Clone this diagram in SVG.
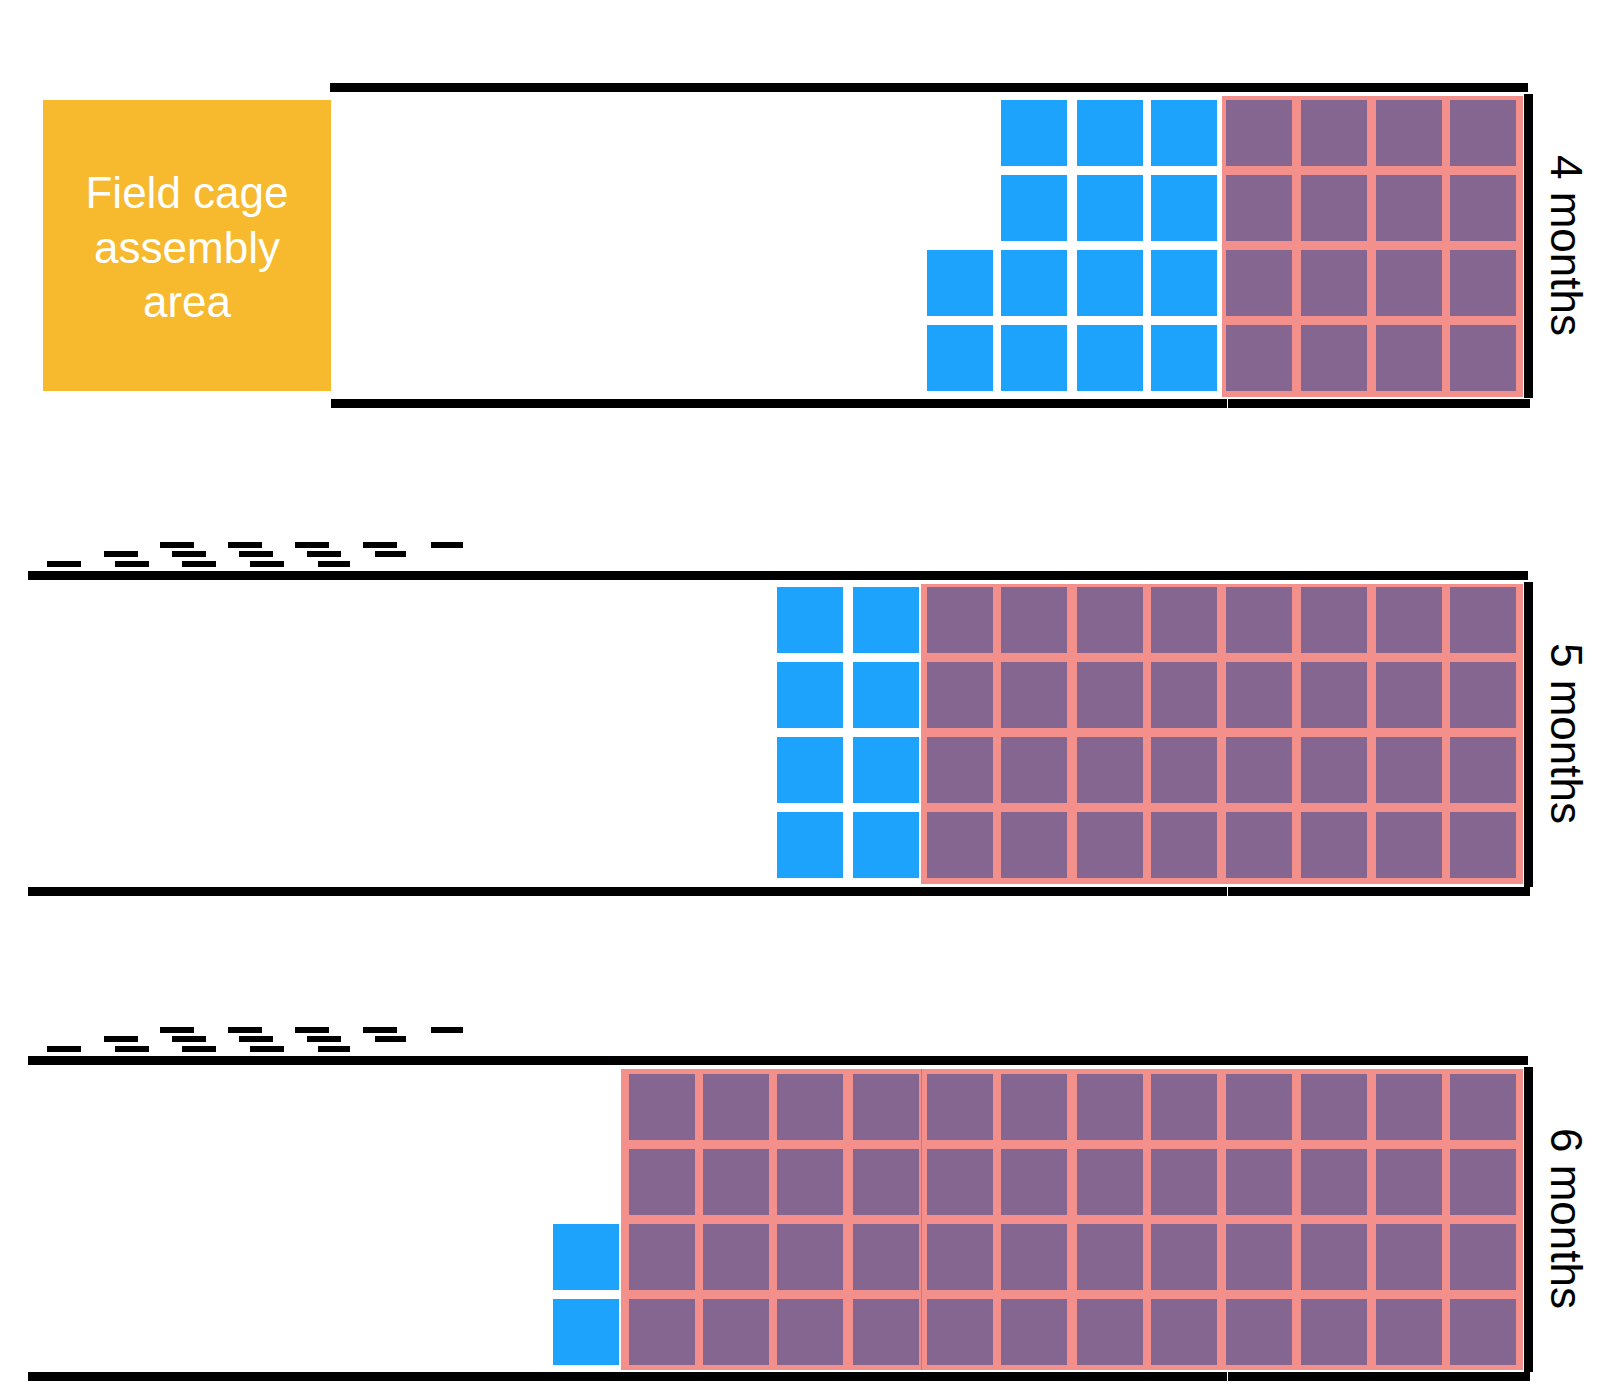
<svg xmlns="http://www.w3.org/2000/svg" xmlns:xlink="http://www.w3.org/1999/xlink" width="1600" height="1400" viewBox="0 0 1600 1400">
<style>
.bar{fill:#000}
.b{fill:#1DA3FC}
.p{fill:#846690}
.pk{fill:#F4908C}
.d{fill:#000}
.lbl{font-family:"Liberation Sans",Arial,sans-serif;font-size:44px;fill:#000;text-anchor:middle}
.box{font-family:"Liberation Sans",Arial,sans-serif;font-size:44px;fill:#fff;text-anchor:middle}
</style>
<defs>
<g id="dashes">
<rect class="d" x="160" y="542" width="34" height="6"/><rect class="d" x="228" y="542" width="34" height="6"/><rect class="d" x="295" y="542" width="34" height="6"/><rect class="d" x="363" y="542" width="34" height="6"/><rect class="d" x="431" y="542" width="32" height="6"/>
<rect class="d" x="104" y="551" width="34" height="6"/><rect class="d" x="172" y="551" width="34" height="6"/><rect class="d" x="239" y="551" width="34" height="6"/><rect class="d" x="307" y="551" width="34" height="6"/><rect class="d" x="375" y="551" width="31" height="6"/>
<rect class="d" x="47" y="561" width="34" height="6"/><rect class="d" x="115" y="561" width="34" height="6"/><rect class="d" x="182" y="561" width="34" height="6"/><rect class="d" x="250" y="561" width="34" height="6"/><rect class="d" x="318" y="561" width="32" height="6"/>
</g>
</defs>

<g id="assembly-area">
<rect x="43" y="100" width="288" height="291" fill="#F7B92D"/>
<text class="box" x="187" y="208">Field cage</text>
<text class="box" x="187" y="262.5">assembly</text>
<text class="box" x="187" y="317">area</text>
</g>

<g id="panel-4-months">
<rect class="bar" x="330" y="83" width="1198" height="9"/>
<rect class="bar" x="331" y="399" width="896" height="9"/>
<rect class="bar" x="1228" y="399" width="302" height="9"/>
<rect class="bar" x="1524" y="94" width="9" height="304"/>
<g>
<rect class="b" x="1001" y="100" width="66" height="66"/><rect class="b" x="1077" y="100" width="66" height="66"/><rect class="b" x="1151" y="100" width="66" height="66"/>
<rect class="b" x="1001" y="175" width="66" height="66"/><rect class="b" x="1077" y="175" width="66" height="66"/><rect class="b" x="1151" y="175" width="66" height="66"/>
<rect class="b" x="927" y="250" width="66" height="66"/><rect class="b" x="1001" y="250" width="66" height="66"/><rect class="b" x="1077" y="250" width="66" height="66"/><rect class="b" x="1151" y="250" width="66" height="66"/>
<rect class="b" x="927" y="325" width="66" height="66"/><rect class="b" x="1001" y="325" width="66" height="66"/><rect class="b" x="1077" y="325" width="66" height="66"/><rect class="b" x="1151" y="325" width="66" height="66"/>
</g>
<rect class="pk" x="1222" y="96" width="301" height="301"/>
<g>
<rect class="p" x="1226" y="100" width="66" height="66"/><rect class="p" x="1301" y="100" width="66" height="66"/><rect class="p" x="1376" y="100" width="66" height="66"/><rect class="p" x="1450" y="100" width="66" height="66"/>
<rect class="p" x="1226" y="175" width="66" height="66"/><rect class="p" x="1301" y="175" width="66" height="66"/><rect class="p" x="1376" y="175" width="66" height="66"/><rect class="p" x="1450" y="175" width="66" height="66"/>
<rect class="p" x="1226" y="250" width="66" height="66"/><rect class="p" x="1301" y="250" width="66" height="66"/><rect class="p" x="1376" y="250" width="66" height="66"/><rect class="p" x="1450" y="250" width="66" height="66"/>
<rect class="p" x="1226" y="325" width="66" height="66"/><rect class="p" x="1301" y="325" width="66" height="66"/><rect class="p" x="1376" y="325" width="66" height="66"/><rect class="p" x="1450" y="325" width="66" height="66"/>
</g>
<text class="lbl" transform="translate(1551,245.5) rotate(90)">4 months</text>
</g>

<g id="panel-5-months">
<use xlink:href="#dashes" href="#dashes"/>
<rect class="bar" x="28" y="571" width="1500" height="9"/>
<rect class="bar" x="28" y="887" width="1199" height="9"/>
<rect class="bar" x="1228" y="887" width="302" height="9"/>
<rect class="bar" x="1524" y="582" width="9" height="305"/>
<g>
<rect class="b" x="777" y="587" width="66" height="66"/><rect class="b" x="853" y="587" width="66" height="66"/>
<rect class="b" x="777" y="662" width="66" height="66"/><rect class="b" x="853" y="662" width="66" height="66"/>
<rect class="b" x="777" y="737" width="66" height="66"/><rect class="b" x="853" y="737" width="66" height="66"/>
<rect class="b" x="777" y="812" width="66" height="66"/><rect class="b" x="853" y="812" width="66" height="66"/>
</g>
<rect class="pk" x="921" y="584" width="602" height="300"/>
<g>
<rect class="p" x="927" y="587" width="66" height="66"/><rect class="p" x="1001" y="587" width="66" height="66"/><rect class="p" x="1077" y="587" width="66" height="66"/><rect class="p" x="1151" y="587" width="66" height="66"/><rect class="p" x="1226" y="587" width="66" height="66"/><rect class="p" x="1301" y="587" width="66" height="66"/><rect class="p" x="1376" y="587" width="66" height="66"/><rect class="p" x="1450" y="587" width="66" height="66"/>
<rect class="p" x="927" y="662" width="66" height="66"/><rect class="p" x="1001" y="662" width="66" height="66"/><rect class="p" x="1077" y="662" width="66" height="66"/><rect class="p" x="1151" y="662" width="66" height="66"/><rect class="p" x="1226" y="662" width="66" height="66"/><rect class="p" x="1301" y="662" width="66" height="66"/><rect class="p" x="1376" y="662" width="66" height="66"/><rect class="p" x="1450" y="662" width="66" height="66"/>
<rect class="p" x="927" y="737" width="66" height="66"/><rect class="p" x="1001" y="737" width="66" height="66"/><rect class="p" x="1077" y="737" width="66" height="66"/><rect class="p" x="1151" y="737" width="66" height="66"/><rect class="p" x="1226" y="737" width="66" height="66"/><rect class="p" x="1301" y="737" width="66" height="66"/><rect class="p" x="1376" y="737" width="66" height="66"/><rect class="p" x="1450" y="737" width="66" height="66"/>
<rect class="p" x="927" y="812" width="66" height="66"/><rect class="p" x="1001" y="812" width="66" height="66"/><rect class="p" x="1077" y="812" width="66" height="66"/><rect class="p" x="1151" y="812" width="66" height="66"/><rect class="p" x="1226" y="812" width="66" height="66"/><rect class="p" x="1301" y="812" width="66" height="66"/><rect class="p" x="1376" y="812" width="66" height="66"/><rect class="p" x="1450" y="812" width="66" height="66"/>
</g>
<text class="lbl" transform="translate(1551,733.5) rotate(90)">5 months</text>
</g>

<g id="panel-6-months">
<use xlink:href="#dashes" href="#dashes" y="485"/>
<rect class="bar" x="28" y="1056" width="1500" height="9"/>
<rect class="bar" x="28" y="1372" width="1199" height="9"/>
<rect class="bar" x="1228" y="1372" width="302" height="9"/>
<rect class="bar" x="1524" y="1067" width="9" height="305"/>
<g>
<rect class="b" x="553" y="1224" width="66" height="66"/>
<rect class="b" x="553" y="1299" width="66" height="66"/>
</g>
<rect class="pk" x="621" y="1069" width="902" height="301"/>
<rect x="921" y="1069" width="1" height="301" fill="#E96A6E"/>
<g>
<rect class="p" x="629" y="1074" width="66" height="66"/><rect class="p" x="703" y="1074" width="66" height="66"/><rect class="p" x="777" y="1074" width="66" height="66"/><rect class="p" x="853" y="1074" width="66" height="66"/><rect class="p" x="927" y="1074" width="66" height="66"/><rect class="p" x="1001" y="1074" width="66" height="66"/><rect class="p" x="1077" y="1074" width="66" height="66"/><rect class="p" x="1151" y="1074" width="66" height="66"/><rect class="p" x="1226" y="1074" width="66" height="66"/><rect class="p" x="1301" y="1074" width="66" height="66"/><rect class="p" x="1376" y="1074" width="66" height="66"/><rect class="p" x="1450" y="1074" width="66" height="66"/>
<rect class="p" x="629" y="1149" width="66" height="66"/><rect class="p" x="703" y="1149" width="66" height="66"/><rect class="p" x="777" y="1149" width="66" height="66"/><rect class="p" x="853" y="1149" width="66" height="66"/><rect class="p" x="927" y="1149" width="66" height="66"/><rect class="p" x="1001" y="1149" width="66" height="66"/><rect class="p" x="1077" y="1149" width="66" height="66"/><rect class="p" x="1151" y="1149" width="66" height="66"/><rect class="p" x="1226" y="1149" width="66" height="66"/><rect class="p" x="1301" y="1149" width="66" height="66"/><rect class="p" x="1376" y="1149" width="66" height="66"/><rect class="p" x="1450" y="1149" width="66" height="66"/>
<rect class="p" x="629" y="1224" width="66" height="66"/><rect class="p" x="703" y="1224" width="66" height="66"/><rect class="p" x="777" y="1224" width="66" height="66"/><rect class="p" x="853" y="1224" width="66" height="66"/><rect class="p" x="927" y="1224" width="66" height="66"/><rect class="p" x="1001" y="1224" width="66" height="66"/><rect class="p" x="1077" y="1224" width="66" height="66"/><rect class="p" x="1151" y="1224" width="66" height="66"/><rect class="p" x="1226" y="1224" width="66" height="66"/><rect class="p" x="1301" y="1224" width="66" height="66"/><rect class="p" x="1376" y="1224" width="66" height="66"/><rect class="p" x="1450" y="1224" width="66" height="66"/>
<rect class="p" x="629" y="1299" width="66" height="66"/><rect class="p" x="703" y="1299" width="66" height="66"/><rect class="p" x="777" y="1299" width="66" height="66"/><rect class="p" x="853" y="1299" width="66" height="66"/><rect class="p" x="927" y="1299" width="66" height="66"/><rect class="p" x="1001" y="1299" width="66" height="66"/><rect class="p" x="1077" y="1299" width="66" height="66"/><rect class="p" x="1151" y="1299" width="66" height="66"/><rect class="p" x="1226" y="1299" width="66" height="66"/><rect class="p" x="1301" y="1299" width="66" height="66"/><rect class="p" x="1376" y="1299" width="66" height="66"/><rect class="p" x="1450" y="1299" width="66" height="66"/>
</g>
<text class="lbl" transform="translate(1551,1218.5) rotate(90)">6 months</text>
</g>
</svg>
